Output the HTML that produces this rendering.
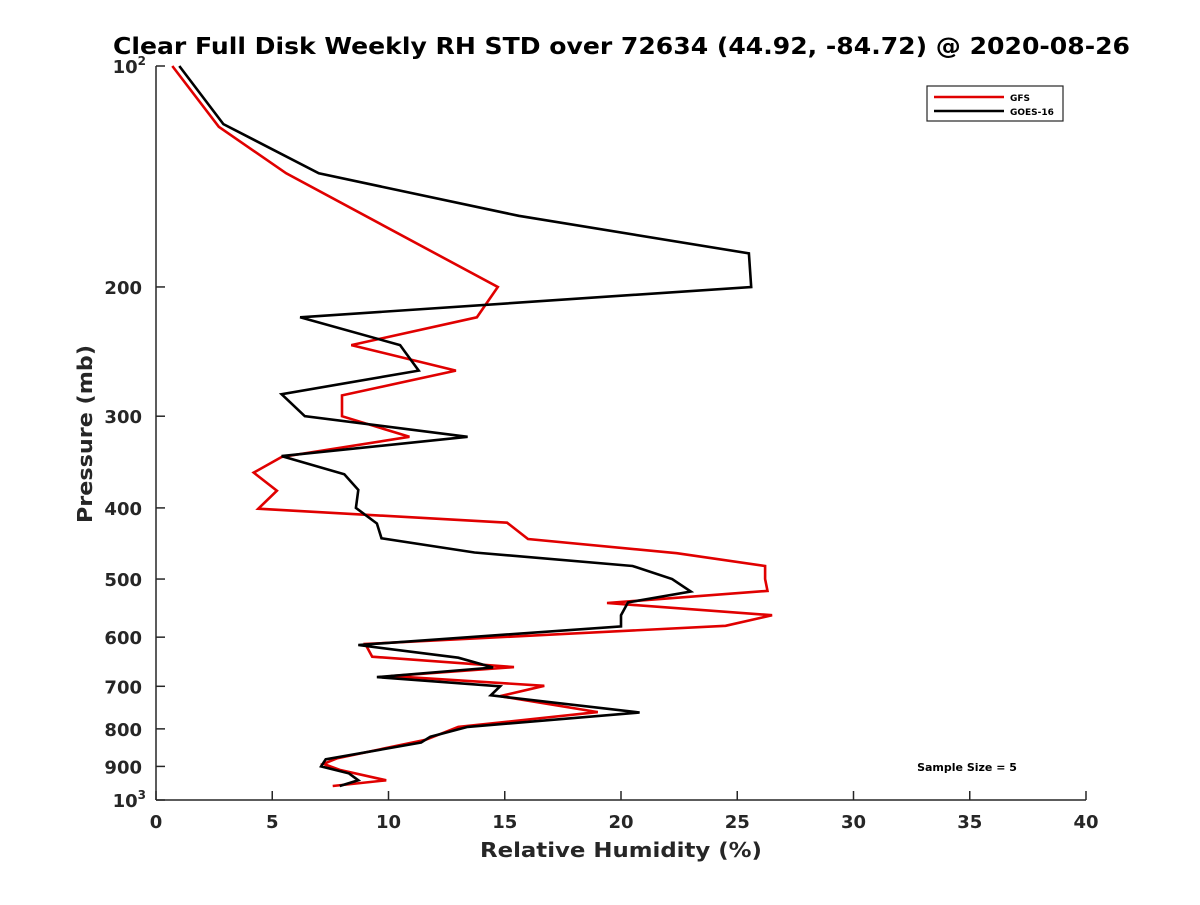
<!DOCTYPE html>
<html><head><meta charset="utf-8"><style>
body{margin:0;background:#fff;}
svg text{font-family:"DejaVu Sans","Liberation Sans",sans-serif;font-weight:bold;fill:#262626;}
</style></head><body>
<svg id="chart" width="1200" height="900" xmlns="http://www.w3.org/2000/svg">
<rect width="1200" height="900" fill="#fff"/>
<text x="113" y="54" font-size="23" textLength="1017" lengthAdjust="spacingAndGlyphs" style="fill:#000">Clear Full Disk Weekly RH STD over 72634 (44.92, -84.72) @ 2020-08-26</text>
<g id="axes"></g>
<g id="series"></g>
<text x="480" y="857" font-size="20" textLength="282" lengthAdjust="spacingAndGlyphs">Relative Humidity (%)</text>
<text transform="translate(92,523) rotate(-90)" font-size="20" textLength="178" lengthAdjust="spacingAndGlyphs">Pressure (mb)</text>
<g>
<rect x="927" y="86" width="136" height="35" fill="#fff" stroke="#262626" stroke-width="1.2"/>
<line x1="934" y1="97" x2="1004" y2="97" stroke="#e00000" stroke-width="2.5"/>
<text x="1010" y="101" font-size="9" style="fill:#000">GFS</text>
<line x1="934" y1="111" x2="1004" y2="111" stroke="#000" stroke-width="2.5"/>
<text x="1010" y="115" font-size="9" style="fill:#000">GOES-16</text>
</g>
<text x="967" y="771" font-size="11" text-anchor="middle" style="fill:#000">Sample Size = 5</text>
</svg>
<script>
const xTicks=[0,5,10,15,20,25,30,35,40];
const yTicks=[100,200,300,400,500,600,700,800,900,1000];
const yTickLabels=["10²","200","300","400","500","600","700","800","900","10³"];
const gfsP=[100,121,140,200,220,240,260,281,300,320,341,358,379,401,419,441,461,480,500,519,539,560,579,613,638,659,678,699,722,759,795,828,877,893,910,940,957];
const gfsRH=[0.7,2.7,5.6,14.7,13.8,8.4,12.9,8.0,8.0,10.9,5.4,4.2,5.2,4.4,15.1,16.0,22.4,26.2,26.2,26.3,19.4,26.5,24.5,9.0,9.3,15.4,10.1,16.7,14.8,19.0,13.0,11.6,7.8,7.2,7.9,9.9,7.6];
const goesP=[100,120,140,160,180,200,220,240,245,260,280,300,320,340,360,378,400,420,440,460,480,500,520,538,560,580,615,640,660,680,700,720,760,795,820,835,880,900,920,940,957];
const goesRH=[1.0,2.9,7.0,15.6,25.5,25.6,6.2,10.5,10.7,11.3,5.4,6.4,13.4,5.4,8.1,8.7,8.6,9.5,9.7,13.7,20.5,22.2,23.0,20.3,20.0,20.0,8.7,13.0,14.5,9.5,14.8,14.4,20.8,13.4,11.8,11.4,7.3,7.1,8.3,8.7,7.9];
const X0=156,X1=1086,Y0=66,Y1=800;
const xs=v=>X0+(v-0)/(40-0)*(X1-X0);
const ys=p=>Y0+Math.log10(p/100)*(Y1-Y0);
const NS="http://www.w3.org/2000/svg";
const axes=document.getElementById('axes'),ser=document.getElementById('series');
function mk(t,a,parent){const e=document.createElementNS(NS,t);for(const k in a)e.setAttribute(k,a[k]);parent.appendChild(e);return e;}
let l=mk('line',{x1:X0,y1:Y0,x2:X0,y2:Y1,stroke:'#262626','stroke-width':1.5},axes);


l=mk('line',{x1:X0,y1:Y1,x2:X1,y2:Y1,stroke:'#262626','stroke-width':1.5},axes);


xTicks.forEach(v=>{const x=xs(v);
 const t=mk('line',{x1:x,y1:Y1,x2:x,y2:Y1-9,stroke:'#262626','stroke-width':1.5},axes);
 
 
 const tx=mk('text',{x:x,y:Y1+28,'font-size':18,'text-anchor':'middle'},axes);tx.textContent=v;
 
 
});
yTicks.forEach((p,i)=>{const y=ys(p);
 const t=mk('line',{x1:X0,y1:y,x2:X0+9,y2:y,stroke:'#262626','stroke-width':1.5},axes);
 
 
 const lab=yTickLabels[i];
 const tx=mk('text',{x:X0-14,y:y+7,'font-size':18,'text-anchor':'end'},axes);
 if(lab.length===3&&(lab.endsWith('²')||lab.endsWith('³'))){tx.textContent='10';const s=mk('tspan',{dy:-8,'font-size':12},tx);s.textContent=lab.endsWith('²')?'2':'3';tx.setAttribute('x',X0-10);}
 else tx.textContent=lab;
 
 
});
function line(P,R,color,name){
 const d=P.map((p,i)=>(i?'L':'M')+xs(R[i]).toFixed(1)+','+ys(p).toFixed(1)).join('');
 const e=mk('path',{d:d,fill:'none',stroke:color,'stroke-width':2.6,'stroke-linejoin':'miter'},ser);
 
 
}
line(gfsP,gfsRH,'#e00000','gfs-line');
line(goesP,goesRH,'#000000','goes16-line');
</script>
</body></html>
